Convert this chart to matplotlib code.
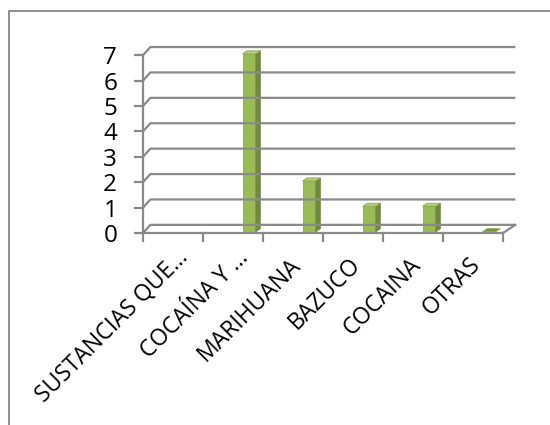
import matplotlib.pyplot as plt
from matplotlib.patches import Polygon, Rectangle

categories = ["SUSTANCIAS QUE…", "COCAÍNA Y …", "MARIHUANA", "BAZUCO", "COCAINA", "OTRAS"]
values = [None, 7, 2, 1, 1, 0]
y_ticks = [0, 1, 2, 3, 4, 5, 6, 7]

plt.rcParams['font.family'] = ['Open Sans', 'DejaVu Sans']

grid_color = "#8a8a8a"
face_color = "#9bbb59"
side_color = "#71893f"
top_color = "#b5cd7e"

# fake 3d: the back wall sits up and to the right of the front axis
depth_dy = 0.32


def back_x(x):
    return 0.123 + x * 1.0137


fig = plt.figure(figsize=(5.5, 4.25), dpi=100)
ax = fig.add_axes([0.2055, 0.392, 0.7636, 0.538])
ax.set_xlim(-0.5, 6.5)
ax.set_ylim(-1, 8)
ax.axis('off')

n = len(categories)

# gridlines with the short diagonal back to the front axis
for v in y_ticks:
    ax.plot([0, back_x(0), back_x(n)], [v, v + depth_dy, v + depth_dy],
            color=grid_color, lw=1.6, clip_on=False, solid_capstyle='butt')
    ax.plot([-0.14, 0], [v, v], color=grid_color, lw=1.6, clip_on=False)
    ax.text(-0.43, v, str(v), ha='right', va='center_baseline', fontsize=17.5)

# front axis line and floor edges
ax.plot([0, 0], [0, y_ticks[-1]], color=grid_color, lw=1.6, clip_on=False)
ax.plot([0, n, back_x(n)], [0, 0, depth_dy], color=grid_color, lw=1.6, clip_on=False)
for i in range(n + 1):
    ax.plot([i, i], [0, -0.32], color=grid_color, lw=1.6, clip_on=False)

# columns
bar_w = 0.22
side_dx = 0.075
side_dy = 0.12
lift = 0.05
for i, val in enumerate(values):
    if val is None:
        continue
    x0 = i + 0.66
    x1 = x0 + bar_w
    y0 = lift
    y1 = val + lift
    if val > 0:
        ax.add_patch(Polygon([[x0, y0], [x1, y0], [x1, y1], [x0, y1]],
                             closed=True, facecolor=face_color, edgecolor="#8aa84c", lw=0.6))
        ax.add_patch(Polygon([[x1, y0], [x1 + side_dx, y0 + side_dy],
                              [x1 + side_dx, y1 + side_dy], [x1, y1]],
                             closed=True, facecolor=side_color, edgecolor=side_color, lw=0.6))
    ax.add_patch(Polygon([[x0, y1], [x1, y1], [x1 + side_dx, y1 + side_dy],
                          [x0 + side_dx, y1 + side_dy]],
                         closed=True, facecolor=top_color if val > 0 else "#76933c",
                         edgecolor="#8aa84c", lw=0.6))

# category labels; truncated names sit a little further along their slant
for i, name in enumerate(categories):
    if name.endswith("…"):
        lx, ly = i + 0.70, -0.85
    else:
        lx, ly = i + 0.57, -1.12
    ax.text(lx, ly, name, rotation=45, rotation_mode='anchor',
            ha='right', va='center', fontsize=16.5)

# chart area border (cut off on the right and bottom)
fig.patches.append(Rectangle((8.5 / 550, -0.1), 1.2, 1.1 - 11 / 425,
                             transform=fig.transFigure, fill=False,
                             edgecolor="#888888", lw=1.3))

fig.savefig("out.png", dpi=100)
